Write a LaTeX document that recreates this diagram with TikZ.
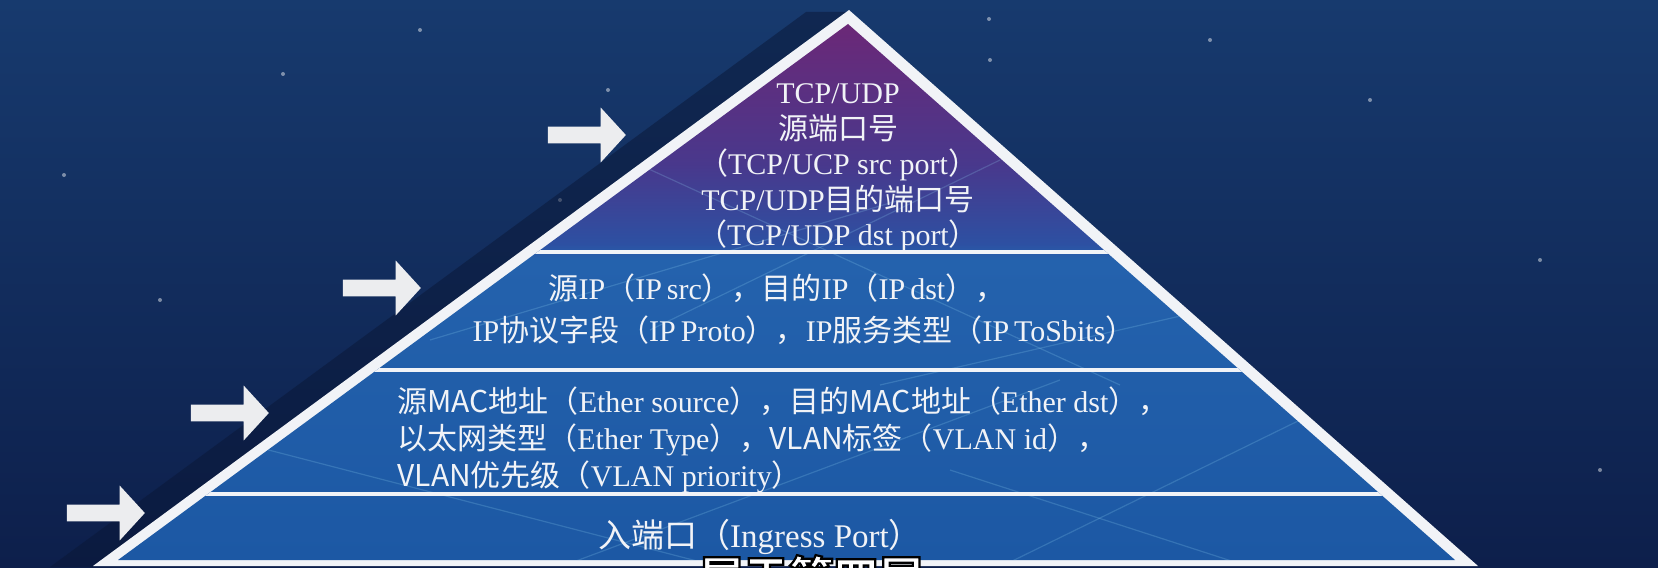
\documentclass[tikz,border=0pt]{standalone}
\usepackage{fontspec}
\setmainfont{Liberation Serif}
\newfontfamily\cjk{Noto Sans CJK SC}
\usetikzlibrary{shapes.arrows}

\definecolor{bgtop}{HTML}{173A6E}
\definecolor{bgbot}{HTML}{0D1F4B}
\definecolor{shadownavy}{HTML}{0A1736}
\definecolor{tierlow}{HTML}{1C58A4}
\definecolor{tiermid}{HTML}{2462AD}
\definecolor{tierjoin}{HTML}{2D50A2}
\definecolor{tierviolet}{HTML}{49388C}
\definecolor{tiertop}{HTML}{6B2877}
\definecolor{softwhite}{HTML}{F1F3F7}
\definecolor{arrowwhite}{HTML}{ECEDEF}

\pgfdeclareverticalshading{pyramidfill}{100bp}{color(0bp)=(tierlow); color(25bp)=(tierlow); color(53bp)=(tiermid); color(54.5bp)=(tierjoin); color(62bp)=(tierviolet); color(75bp)=(tiertop); color(100bp)=(tiertop)}

\newcommand{\outlined}[1]{\special{pdf:literal direct 2 Tr 1.1 w 0 0 0 RG}#1\special{pdf:literal direct 0 Tr}}

\begin{document}
\begin{tikzpicture}[x=0.5pt, y=-0.5pt]

    \tikzstyle{tiertext} = [text=softwhite, inner sep=0pt, font=\fontsize{15}{18}\selectfont]
    \tikzstyle{pusharrow} = [single arrow, fill=arrowwhite, draw=none, inner xsep=0pt, inner ysep=4pt, minimum height=39pt, single arrow head extend=9.5pt, single arrow tip angle=95]
    \tikzstyle{faintline} = [draw=cyan!40!white, opacity=0.2, line width=0.6pt]
    \tikzstyle{divider} = [draw=softwhite, line width=2.3pt]

    \useasboundingbox (0,0) rectangle (1658,567);

    \begin{scope}
    \clip (0,0) rectangle (1658,567);
    \shade[top color=bgtop, bottom color=bgbot] (0,0) rectangle (1658,567);

    \foreach \sx/\sy in {608/90, 989/19, 283/74, 1370/100, 64/175, 1210/40, 420/30, 1540/260, 160/300, 1600/470, 990/60, 560/200}
        \fill[white, opacity=0.45] (\sx,\sy) circle (1pt);

    \fill[shadownavy, opacity=0.5] (849,12) -- (806,12) -- (50,567) -- (93,567) -- cycle;

    \coordinate (apexOut) at (849,10);
    \coordinate (leftOut) at (93,566);
    \coordinate (rightOut) at (1478,566);
    \coordinate (apexIn) at (848,24);
    \coordinate (leftIn) at (118,560);
    \coordinate (rightIn) at (1455,560);

    \fill[softwhite] (apexOut) -- (leftOut) -- (rightOut) -- cycle;
    \shade[shading=pyramidfill] (apexIn) -- (leftIn) -- (rightIn) -- cycle;

    \begin{scope}
    \clip (apexIn) -- (leftIn) -- (rightIn) -- cycle;
    \draw[faintline] (230,440) -- (720,567);
    \draw[faintline] (560,567) -- (1060,380);
    \draw[faintline] (950,470) -- (1250,567);
    \draw[faintline] (1000,567) -- (1300,420);
    \draw[faintline] (430,340) -- (900,200);
    \draw[faintline] (640,165) -- (1120,385);
    \draw[faintline] (1000,160) -- (650,330);
    \draw[faintline] (1250,300) -- (880,385);
    \draw[divider] (0,252) -- (1658,252);
    \draw[divider] (0,370) -- (1658,370);
    \draw[divider] (0,494) -- (1658,494);
    \end{scope}

    \node (arrowA) [pusharrow] at (583,135) {};
    \node (arrowB) [pusharrow] at (378,288) {};
    \node (arrowC) [pusharrow] at (226,413) {};
    \node (arrowD) [pusharrow] at (102,513) {};

    \node (tcpText) [tiertext, align=center, font=\fontsize{15}{17.8}\selectfont] at (838,168) {TCP/UDP\\ {\cjk 源端口号}\\ {\cjk （}TCP/UCP src port{\cjk ）}\\ TCP/UDP{\cjk 目的端口号}\\ {\cjk （}TCP/UDP dst port{\cjk ）}};

    \node (ipLineA) [tiertext] at (777,288) {{\cjk 源}IP{\cjk （}IP\,src{\cjk ），目的}IP{\cjk （}IP\,dst{\cjk ），}};
    \node (ipLineB) [tiertext] at (804,330) {IP{\cjk 协议字段（}IP\,Proto{\cjk ），}IP{\cjk 服务类型（}IP\,ToSbits{\cjk ）}};

    \node (macText) [tiertext, align=left, anchor=west, font=\fontsize{15}{18.5}\selectfont] at (397,440) {{\cjk 源MAC地址（}Ether source{\cjk ），目的MAC地址（}Ether dst{\cjk ），}\\ {\cjk 以太网类型（}Ether Type{\cjk ），VLAN标签（}VLAN id{\cjk ），}\\ {\cjk VLAN优先级（}VLAN priority{\cjk ）}};

    \node (portText) [tiertext, font=\fontsize{16.5}{19}\selectfont] at (760,537) {{\cjk 入端口（}Ingress Port{\cjk ）}};

    \node (subText) [text=white, inner sep=0pt, anchor=base, font=\fontsize{22.5}{26}\selectfont] at (811,594) {\outlined{\cjk\bfseries 属于第四层}};
    \end{scope}

\end{tikzpicture}
\end{document}
